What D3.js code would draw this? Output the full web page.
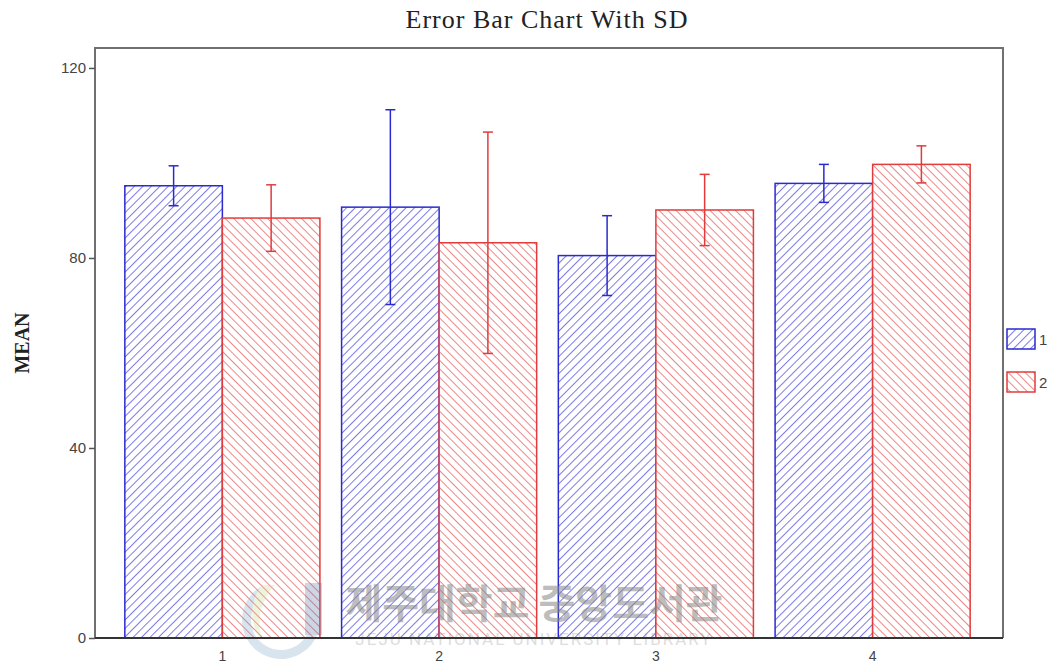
<!DOCTYPE html>
<html>
<head>
<meta charset="utf-8">
<script src="https://cdn.jsdelivr.net/npm/d3@7"></script>
<style>
  body { margin: 0; background: #fff; }
  svg { display: block; }
</style>
</head>
<body>
<div id="chart"></div>
<script>
'use strict';

// chart values
const groups = ['1', '2', '3', '4'];
const seriesNames = ['1', '2'];
const means1 = [95.2, 90.7, 80.5, 95.7];
const sd1 = [4.2, 20.5, 8.4, 4.0];
const means2 = [88.4, 83.2, 90.1, 99.7];
const sd2 = [7.0, 23.3, 7.5, 3.9];
const yTicks = [0, 40, 80, 120];

const width = 1055;
const height = 667;
const margin = { top: 48, right: 52, bottom: 29, left: 95 };
const plotRight = width - margin.right;
const plotBottom = height - margin.bottom;

const colors = { '1': '#2a2ad0', '2': '#e23b3b' };
const hatch = { '1': '#5a5ae0', '2': '#e86a6a' };

const svg = d3.select('#chart')
    .append('svg')
    .attr('width', width)
    .attr('height', height);

const defs = svg.append('defs');

// diagonal hatch fills, "/" for series 1 and "\" for series 2
seriesNames.forEach(s => {
    const p = defs.append('pattern')
        .attr('id', `hatch-${s}`)
        .attr('patternUnits', 'userSpaceOnUse')
        .attr('width', 6)
        .attr('height', 6)
        .attr('patternTransform', `rotate(${s === '1' ? 45 : -45})`);
    p.append('rect')
        .attr('width', 6).attr('height', 6)
        .attr('fill', '#fff');
    p.append('line')
        .attr('x1', 0).attr('y1', 0)
        .attr('x2', 0).attr('y2', 6)
        .attr('stroke', hatch[s])
        .attr('stroke-width', 1.6);
});

const data = groups.map((g, i) => ({
    group: g,
    values: [
        { series: '1', mean: means1[i], sd: sd1[i] },
        { series: '2', mean: means2[i], sd: sd2[i] }
    ]
}));

const x = d3.scaleBand()
    .domain(groups)
    .range([114, 981])
    .paddingInner(0.1)
    .paddingOuter(0.05);

const xSub = d3.scaleBand()
    .domain(seriesNames)
    .range([0, x.bandwidth()]);

const y = d3.scaleLinear()
    .domain([0, 124.2])
    .range([plotBottom, margin.top]);

// bars
const groupG = svg.append('g')
    .selectAll('g')
    .data(data)
    .enter()
    .append('g')
    .attr('transform', d => `translate(${x(d.group)},0)`);

groupG.selectAll('rect')
    .data(d => d.values)
    .enter()
    .append('rect')
    .attr('x', d => xSub(d.series))
    .attr('y', d => y(d.mean))
    .attr('width', xSub.bandwidth())
    .attr('height', d => y(0) - y(d.mean))
    .attr('fill', d => `url(#hatch-${d.series})`)
    .attr('stroke', d => colors[d.series])
    .attr('stroke-width', 1.5);

// error bars (mean +/- sd)
const err = groupG.selectAll('g.err')
    .data(d => d.values)
    .enter()
    .append('g')
    .attr('class', 'err')
    .attr('stroke', d => colors[d.series])
    .attr('stroke-width', 1.5);

err.append('line')
    .attr('x1', d => xSub(d.series) + xSub.bandwidth() / 2)
    .attr('x2', d => xSub(d.series) + xSub.bandwidth() / 2)
    .attr('y1', d => y(d.mean + d.sd))
    .attr('y2', d => y(d.mean - d.sd));

['top', 'bottom'].forEach(end => {
    err.append('line')
        .attr('x1', d => xSub(d.series) + xSub.bandwidth() / 2 - 5)
        .attr('x2', d => xSub(d.series) + xSub.bandwidth() / 2 + 5)
        .attr('y1', d => y(end === 'top' ? d.mean + d.sd : d.mean - d.sd))
        .attr('y2', d => y(end === 'top' ? d.mean + d.sd : d.mean - d.sd));
});

// watermark: faint logo and library name over the bars
const wm = svg.append('g').attr('opacity', 0.3);
wm.append('path')
    .attr('d', d3.arc()({ innerRadius: 30, outerRadius: 39, startAngle: Math.PI * 0.55, endAngle: Math.PI * 1.85 }))
    .attr('transform', 'translate(281,620)')
    .attr('fill', '#7fa8c8');
wm.append('path')
    .attr('d', 'M262,585 C250,600 248,625 262,640 C256,622 260,600 275,585 Z')
    .attr('fill', '#c8d890');
wm.append('rect')
    .attr('x', 305).attr('y', 583).attr('width', 17).attr('height', 52)
    .attr('fill', '#5a7aa8');

const wmText = svg.append('g')
    .attr('fill', '#888')
    .attr('opacity', 0.55)
    .attr('text-anchor', 'middle');
wmText.append('text')
    .attr('x', 534).attr('y', 618)
    .style('font-family', '"Noto Sans CJK KR", sans-serif')
    .style('font-size', '40px')
    .style('font-weight', 'bold')
    .text('제주대학교 중앙도서관');
wmText.append('text')
    .attr('x', 534).attr('y', 645)
    .style('font-family', 'Roboto, "Liberation Sans", sans-serif')
    .style('font-size', '17px')
    .style('letter-spacing', '2px')
    .attr('opacity', 0.5)
    .text('JEJU NATIONAL UNIVERSITY LIBRARY');

// frame
svg.append('path')
    .attr('d', `M${margin.left},${plotBottom}V${margin.top}H${plotRight}V${plotBottom}`)
    .attr('fill', 'none')
    .attr('stroke', '#707070')
    .attr('stroke-width', 2);

// y axis
const yAxis = svg.append('g')
    .attr('transform', `translate(${margin.left},0)`)
    .call(d3.axisLeft(y).tickValues(yTicks).tickSize(6).tickPadding(3));
yAxis.select('.domain').remove();
yAxis.selectAll('line').attr('stroke', '#555').attr('stroke-width', 1.5);
yAxis.selectAll('text')
    .attr('fill', '#444')
    .style('font-family', '"Liberation Sans", Arial, sans-serif')
    .style('font-size', '15px');

// x axis
const xAxis = svg.append('g')
    .attr('transform', `translate(0,${plotBottom})`)
    .call(d3.axisBottom(x).tickSize(0).tickPadding(13));
xAxis.select('.domain')
    .attr('d', `M${margin.left},0H${plotRight}`)
    .attr('stroke', '#333')
    .attr('stroke-width', 2);
xAxis.selectAll('text')
    .attr('fill', '#444')
    .style('font-family', '"Liberation Sans", Arial, sans-serif')
    .style('font-size', '14px');

// title and y label
svg.append('text')
    .attr('x', 547)
    .attr('y', 28)
    .attr('text-anchor', 'middle')
    .attr('fill', '#222')
    .style('font-family', '"Liberation Serif", "Times New Roman", serif')
    .style('font-size', '26px')
    .style('letter-spacing', '1px')
    .text('Error Bar Chart With SD');

svg.append('text')
    .attr('transform', 'translate(29,343) rotate(-90)')
    .attr('text-anchor', 'middle')
    .attr('fill', '#222')
    .style('font-family', '"Liberation Serif", "Times New Roman", serif')
    .style('font-size', '20px')
    .style('font-weight', 'bold')
    .text('MEAN');

// legend
const legend = svg.append('g')
    .selectAll('g')
    .data(seriesNames)
    .enter()
    .append('g')
    .attr('transform', (d, i) => `translate(1007,${329 + i * 43})`);

legend.append('rect')
    .attr('width', 28)
    .attr('height', 20)
    .attr('fill', d => `url(#hatch-${d})`)
    .attr('stroke', d => colors[d])
    .attr('stroke-width', 1.5);

legend.append('text')
    .attr('x', 32)
    .attr('y', 16)
    .attr('fill', '#444')
    .style('font-family', '"Liberation Sans", Arial, sans-serif')
    .style('font-size', '15px')
    .text(d => d);
</script>
</body>
</html>
